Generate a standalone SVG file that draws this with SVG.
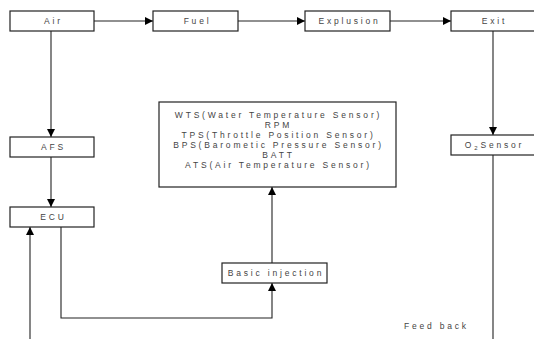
<svg xmlns="http://www.w3.org/2000/svg" width="534" height="339" viewBox="0 0 534 339">
<style>
.box{fill:#fff;stroke:#222;stroke-width:1.2}
.t{font-family:"Liberation Sans",Arial,sans-serif;font-size:8.5px;fill:#444;text-anchor:middle;letter-spacing:2.8px}
.c{fill:none;stroke:#222;stroke-width:1.1}
</style>
<defs>
<marker id="a" viewBox="0 0 10 10" refX="10" refY="5" markerWidth="10" markerHeight="8" markerUnits="userSpaceOnUse" orient="auto">
<path d="M0,0 L10,5 L0,10 z" fill="#000"/>
</marker>
</defs>
<rect width="534" height="339" fill="#fff"/>
<g id="connectors">
<path class="c" d="M94,21 H153" marker-end="url(#a)"/>
<path class="c" d="M238,21 H305" marker-end="url(#a)"/>
<path class="c" d="M390,21 H451" marker-end="url(#a)"/>
<path class="c" d="M51,31 V137" marker-end="url(#a)"/>
<path class="c" d="M51,157 V207" marker-end="url(#a)"/>
<path class="c" d="M493,31 V135" marker-end="url(#a)"/>
<path class="c" d="M493,155 V339"/>
<path class="c" d="M30,339 V227" marker-end="url(#a)"/>
<path class="c" d="M61,227 V318 H272 V283" marker-end="url(#a)"/>
<path class="c" d="M272,263 V187" marker-end="url(#a)"/>
</g>
<g id="air"><rect class="box" x="10" y="11" width="84" height="20"/><text class="t" x="53.5" y="24">Air</text></g>
<g id="fuel"><rect class="box" x="153" y="11" width="85" height="20"/><text class="t" x="197.5" y="24">Fuel</text></g>
<g id="explusion"><rect class="box" x="305" y="11" width="85" height="20"/><text class="t" x="349.5" y="24">Explusion</text></g>
<g id="exit"><rect class="box" x="451" y="11" width="90" height="20"/><text class="t" x="494.5" y="24">Exit</text></g>
<g id="afs"><rect class="box" x="10" y="137" width="84" height="20"/><text class="t" x="53.5" y="150">AFS</text></g>
<g id="ecu"><rect class="box" x="10" y="207" width="84" height="20"/><text class="t" x="53.5" y="220">ECU</text></g>
<g id="o2sensor"><rect class="box" x="451" y="135" width="90" height="20"/><text class="t" x="494.5" y="148">O<tspan font-size="6" dy="2">2</tspan><tspan dy="-2">Sensor</tspan></text></g>
<g id="sensors"><rect class="box" x="159" y="102" width="237" height="85"/>
<text class="t" x="278.5" y="118">WTS(Water Temperature Sensor)</text>
<text class="t" x="278.5" y="128">RPM</text>
<text class="t" x="278.5" y="138">TPS(Throttle Position Sensor)</text>
<text class="t" x="278.5" y="148">BPS(Barometic Pressure Sensor)</text>
<text class="t" x="278.5" y="158">BATT</text>
<text class="t" x="278.5" y="168">ATS(Air Temperature Sensor)</text>
</g>
<g id="basic"><rect class="box" x="222" y="263" width="105" height="20"/><text class="t" x="276" y="276">Basic injection</text></g>
<g id="feedback"><text class="t" x="404" y="329" style="text-anchor:start">Feed back</text></g>
</svg>
